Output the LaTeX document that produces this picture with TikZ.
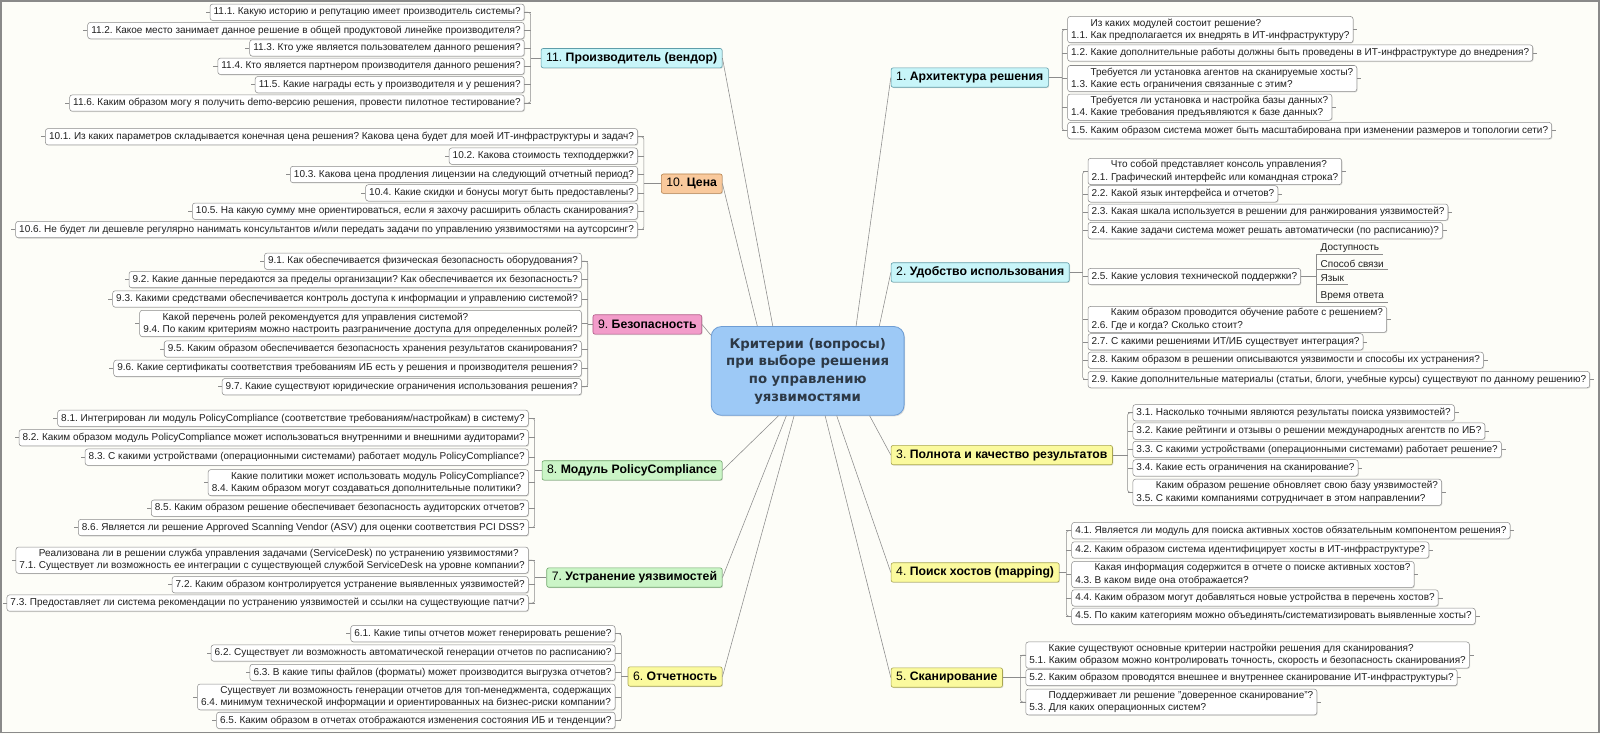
\documentclass[tikz,border=0pt]{standalone}
\usepackage{fontspec}
\setmainfont{Liberation Sans}
\newfontfamily\hubfont{DejaVu Sans}
\usetikzlibrary{calc,shadows}
\definecolor{Paper}{HTML}{FDFDF8}
\definecolor{Frame}{HTML}{8A8A8A}
\definecolor{Wire}{HTML}{8C8C8C}
\definecolor{Ink}{HTML}{202020}
\definecolor{HubFill}{HTML}{9DC9F6}
\definecolor{HubLine}{HTML}{6E9DD4}
\definecolor{HubInk}{HTML}{2D3946}
\definecolor{CyanSoft}{HTML}{C8F5F9}
\definecolor{CyanLine}{HTML}{5F9DA9}
\definecolor{PeachSoft}{HTML}{F9C99C}
\definecolor{PeachLine}{HTML}{B7834F}
\definecolor{PinkSoft}{HTML}{F29CCA}
\definecolor{PinkLine}{HTML}{B25A88}
\definecolor{GreenSoft}{HTML}{CBF5C7}
\definecolor{GreenLine}{HTML}{70A76B}
\definecolor{YellowSoft}{HTML}{FBFA9E}
\definecolor{YellowLine}{HTML}{A9A652}
\newcommand{\dualline}[3]{\hspace*{19pt}#2\\#1 #3}
\tikzset{
  wire/.style={draw=Wire,line width=0.55pt},
  leaf/.style={draw=Frame,fill=white,rounded corners=2.5pt,line width=0.5pt,
    inner xsep=3.5pt,inner ysep=2.2pt,minimum height=16pt,align=left,
    font=\fontsize{9.8}{12}\selectfont,text=Ink,
    drop shadow={shadow xshift=0.8pt,shadow yshift=-0.8pt,opacity=0.25}},
  leafL/.style={leaf,anchor=east},
  leafR/.style={leaf,anchor=west},
  topic/.style={draw=#1Line,fill=#1Soft,rounded corners=2pt,line width=0.6pt,
    inner xsep=5pt,minimum height=19pt,font=\fontsize{12}{13}\selectfont,text=black,
    drop shadow={shadow xshift=0.8pt,shadow yshift=-0.8pt,opacity=0.25}},
  note/.style={anchor=west,inner xsep=4pt,inner ysep=1.5pt,
    font=\fontsize{9.8}{12}\selectfont,text=Ink},
  hub/.style={draw=HubLine,fill=HubFill,rounded corners=10pt,line width=0.8pt,
    minimum width=189pt,minimum height=87pt,align=center,text=HubInk,
    font={\hubfont\fontsize{13}{17.3}\selectfont\bfseries},
    drop shadow={shadow xshift=1pt,shadow yshift=-1pt,opacity=0.25}}
}

\begin{document}
\frenchspacing
\begin{tikzpicture}[x=1pt,y=-1pt]
  \fill[Paper] (0,0) rectangle (1568,719);
  \draw[Frame,line width=1.2pt] (1,1) rectangle (1567,718);

  \node[hub] (hub) at (791.5,363.5)
    {Критерии (вопросы)\\при выборе решения\\по управлению\\уязвимостями};

  % main topics
  \node[topic=Cyan,anchor=east] (t11) at (708,57) {11. \textbf{Производитель (вендор)}};
  \node[topic=Peach,anchor=east] (t10) at (708,180) {10. \textbf{Цена}};
  \node[topic=Pink,anchor=east] (t9) at (688,318) {9. \textbf{Безопасность}};
  \node[topic=Green,anchor=east] (t8) at (708,461) {8. \textbf{Модуль PolicyCompliance}};
  \node[topic=Green,anchor=east] (t7) at (708,566) {7. \textbf{Устранение уязвимостей}};
  \node[topic=Yellow,anchor=east] (t6) at (708,663) {6. \textbf{Отчетность}};
  \node[topic=Cyan,anchor=west] (t1) at (873,76) {1. \textbf{Архитектура решения}};
  \node[topic=Cyan,anchor=west] (t2) at (873,267) {2. \textbf{Удобство использования}};
  \node[topic=Yellow,anchor=west] (t3) at (873,446) {3. \textbf{Полнота и качество результатов}};
  \node[topic=Yellow,anchor=west] (t4) at (873,561) {4. \textbf{Поиск хостов (mapping)}};
  \node[topic=Yellow,anchor=west] (t5) at (873,664) {5. \textbf{Сканирование}};

  \draw[wire] (t11.east) -- ($(hub.north west)!0.32!(hub.north east)$);
  \draw[wire] (t10.east) -- ($(hub.north west)!0.24!(hub.north east)$);
  \draw[wire] (t9.east) -- ($(hub.north west)!0.1!(hub.south west)$);
  \draw[wire] (t8.east) -- ($(hub.south west)!0.35!(hub.south east)$);
  \draw[wire] (t7.east) -- ($(hub.south west)!0.39!(hub.south east)$);
  \draw[wire] (t6.east) -- ($(hub.south west)!0.43!(hub.south east)$);
  \draw[wire] (t1.west) -- ($(hub.north west)!0.75!(hub.north east)$);
  \draw[wire] (t2.west) -- ($(hub.north west)!0.87!(hub.north east)$);
  \draw[wire] (t3.west) -- ($(hub.south west)!0.82!(hub.south east)$);
  \draw[wire] (t4.west) -- ($(hub.south west)!0.65!(hub.south east)$);
  \draw[wire] (t5.west) -- ($(hub.south west)!0.59!(hub.south east)$);

  % 11
  \foreach \k/\y/\q in {
    1/12/{11.1. Какую историю и репутацию имеет производитель системы?},
    2/30/{11.2. Какое место занимает данное решение в общей продуктовой линейке производителя?},
    3/47/{11.3. Кто уже является пользователем данного решения?},
    4/65/{11.4. Кто является партнером производителя данного решения?},
    5/83/{11.5. Какие награды есть у производителя и у решения?},
    6/101/{11.6. Каким образом могу я получить demo-версию решения, провести пилотное тестирование?}}{
      \node[leafL] (v11-\k) at (514,\y) {\q};
      \draw[wire] (v11-\k.east) -- ++(6,0) (v11-\k.west) -- ++(-4,0);
  }
  \coordinate (j11) at (520,57);
  \draw[wire,rounded corners=2.5pt] (v11-1.east) -| (j11) |- (v11-6.east);
  \draw[wire] (j11) -- (t11.west);

  % 10
  \foreach \k/\y/\q in {
    1/134/{10.1. Из каких параметров складывается конечная цена решения? Какова цена будет для моей ИТ-инфраструктуры и задач?},
    2/153/{10.2. Какова стоимость техподдержки?},
    3/171/{10.3. Какова цена продления лицензии на следующий отчетный период?},
    4/189/{10.4. Какие скидки и бонусы могут быть предоставлены?},
    5/207/{10.5. На какую сумму мне ориентироваться, если я захочу расширить область сканирования?},
    6/225/{10.6. Не будет ли дешевле регулярно нанимать консультантов и/или передать задачи по управлению уязвимостями на аутсорсинг?}}{
      \node[leafL] (v10-\k) at (625,\y) {\q};
      \draw[wire] (v10-\k.east) -- ++(6,0) (v10-\k.west) -- ++(-4,0);
  }
  \coordinate (j10) at (631,180);
  \draw[wire,rounded corners=2.5pt] (v10-1.east) -| (j10) |- (v10-6.east);
  \draw[wire] (j10) -- (t10.west);

  % 9
  \foreach \k/\y/\q in {
    1/256/{9.1. Как обеспечивается физическая безопасность оборудования?},
    2/274/{9.2. Какие данные передаются за пределы организации? Как обеспечивается их безопасность?},
    3/293/{9.3. Какими средствами обеспечивается контроль доступа к информации и управлению системой?},
    4/317/{\dualline{9.4.}{Какой перечень ролей рекомендуется для управления системой?}{По каким критериям можно настроить разграничение доступа для определенных ролей?}},
    5/342/{9.5. Каким образом обеспечивается безопасность хранения результатов сканирования?},
    6/361/{9.6. Какие сертификаты соответствия требованиям ИБ есть у решения и производителя решения?},
    7/379/{9.7. Какие существуют юридические ограничения использования решения?}}{
      \node[leafL] (v9-\k) at (570,\y) {\q};
      \draw[wire] (v9-\k.east) -- ++(6,0) (v9-\k.west) -- ++(-4,0);
  }
  \coordinate (j9) at (576,318);
  \draw[wire,rounded corners=2.5pt] (v9-1.east) -| (j9) |- (v9-7.east);
  \draw[wire] (j9) -- (t9.west);

  % 8
  \foreach \k/\y/\q in {
    1/410/{8.1. Интегрирован ли модуль PolicyCompliance (соответствие требованиям/настройкам) в систему?},
    2/429/{8.2. Каким образом модуль PolicyCompliance может использоваться внутренними и внешними аудиторами?},
    3/448/{8.3. С какими устройствами (операционными системами) работает модуль PolicyCompliance?},
    4/473/{\dualline{8.4.}{Какие политики может использовать модуль PolicyCompliance?}{Каким образом могут создаваться дополнительные политики?}},
    5/498/{8.5. Каким образом решение обеспечивает безопасность аудиторских отчетов?},
    6/517/{8.6. Является ли решение Approved Scanning Vendor (ASV) для оценки соответствия PCI DSS?}}{
      \node[leafL] (v8-\k) at (518,\y) {\q};
      \draw[wire] (v8-\k.east) -- ++(6,0) (v8-\k.west) -- ++(-4,0);
  }
  \coordinate (j8) at (524,461);
  \draw[wire,rounded corners=2.5pt] (v8-1.east) -| (j8) |- (v8-6.east);
  \draw[wire] (j8) -- (t8.west);

  % 7
  \foreach \k/\y/\q in {
    1/549/{\dualline{7.1.}{Реализована ли в решении служба управления задачами (ServiceDesk) по устранению уязвимостями?}{Существует ли возможность ее интеграции с существующей службой ServiceDesk на уровне компании?}},
    2/573/{7.2. Каким образом контролируется устранение выявленных уязвимостей?},
    3/591/{7.3. Предоставляет ли система рекомендации по устранению уязвимостей и ссылки на существующие патчи?}}{
      \node[leafL] (v7-\k) at (518,\y) {\q};
      \draw[wire] (v7-\k.east) -- ++(6,0) (v7-\k.west) -- ++(-4,0);
  }
  \coordinate (j7) at (524,566);
  \draw[wire,rounded corners=2.5pt] (v7-1.east) -| (j7) |- (v7-3.east);
  \draw[wire] (j7) -- (t7.west);

  % 6
  \foreach \k/\y/\q in {
    1/621/{6.1. Какие типы отчетов может генерировать решение?},
    2/640/{6.2. Существует ли возможность автоматической генерации отчетов по расписанию?},
    3/659/{6.3. В какие типы файлов (форматы) может производится выгрузка отчетов?},
    4/683/{\dualline{6.4.}{Существует ли возможность генерации отчетов для топ-менеджмента, содержащих}{минимум технической информации и ориентированных на бизнес-риски компании?}},
    5/706/{6.5. Каким образом в отчетах отображаются изменения состояния ИБ и тенденции?}}{
      \node[leafL] (v6-\k) at (603,\y) {\q};
      \draw[wire] (v6-\k.east) -- ++(6,0) (v6-\k.west) -- ++(-4,0);
  }
  \coordinate (j6) at (609,663);
  \draw[wire,rounded corners=2.5pt] (v6-1.east) -| (j6) |- (v6-5.east);
  \draw[wire] (j6) -- (t6.west);

  % 1
  \foreach \k/\y/\q in {
    1/29/{\dualline{1.1.}{Из каких модулей состоит решение?}{Как предполагается их внедрять в ИТ-инфраструктуру?}},
    2/52/{1.2. Какие дополнительные работы должны быть проведены в ИТ-инфраструктуре до внедрения?},
    3/77/{\dualline{1.3.}{Требуется ли установка агентов на сканируемые хосты?}{Какие есть ограничения связанные с этим?}},
    4/105/{\dualline{1.4.}{Требуется ли установка и настройка базы данных?}{Какие требования предъявляются к базе данных?}},
    5/128/{1.5. Каким образом система может быть масштабирована при изменении размеров и топологии сети?}}{
      \node[leafR] (v1-\k) at (1046,\y) {\q};
      \draw[wire] (v1-\k.west) -- ++(-5,0) (v1-\k.east) -- ++(4,0);
  }
  \coordinate (j1) at (1041,76);
  \draw[wire,rounded corners=2.5pt] (v1-1.west) -| (j1) |- (v1-5.west);
  \draw[wire] (j1) -- (t1.east);

  % 2
  \foreach \k/\y/\q in {
    1/168/{\dualline{2.1.}{Что собой представляет консоль управления?}{Графический интерфейс или командная строка?}},
    2/190/{2.2. Какой язык интерфейса и отчетов?},
    3/208/{2.3. Какая шкала используется в решении для ранжирования уязвимостей?},
    4/226/{2.4. Какие задачи система может решать автоматически (по расписанию)?},
    5/271/{2.5. Какие условия технической поддержки?},
    6/313/{\dualline{2.6.}{Каким образом проводится обучение работе с решением?}{Где и когда? Сколько стоит?}},
    7/335/{2.7. С какими решениями ИТ/ИБ существует интеграция?},
    8/353/{2.8. Каким образом в решении описываются уязвимости и способы их устранения?},
    9/372/{2.9. Какие дополнительные материалы (статьи, блоги, учебные курсы) существуют по данному решению?}}{
      \node[leafR] (v2-\k) at (1066,\y) {\q};
      \draw[wire] (v2-\k.west) -- ++(-5,0) (v2-\k.east) -- ++(4,0);
  }
  \coordinate (j2) at (1061,267);
  \draw[wire,rounded corners=2.5pt] (v2-1.west) -| (j2) |- (v2-9.west);
  \draw[wire] (j2) -- (t2.east);

  \foreach \k/\y/\q in {1/243/Доступность, 2/259/Способ связи, 3/273/Язык, 4/290/Время ответа}{
    \node[note] (s\k) at (1290,\y) {\q};
    \draw[wire] (s\k.south west) -- (s\k.south east);
  }
  \coordinate (j25) at (1290,271);
  \draw[wire] (s1.south west) -- (s4.south west);
  \draw[wire] (v2-5.east) -- (j25);

  % 3
  \foreach \k/\y/\q in {
    1/404.5/{3.1. Насколько точными являются результаты поиска уязвимостей?},
    2/422.5/{3.2. Какие рейтинги и отзывы о решении международных агентств по ИБ?},
    3/440.5/{3.3. С какими устройствами (операционными системами) работает решение?},
    4/458.5/{3.4. Какие есть ограничения на сканирование?},
    5/482.5/{\dualline{3.5.}{Каким образом решение обновляет свою базу уязвимостей?}{С какими компаниями сотрудничает в этом направлении?}}}{
      \node[leafR] (v3-\k) at (1110,\y) {\q};
      \draw[wire] (v3-\k.west) -- ++(-5,0) (v3-\k.east) -- ++(4,0);
  }
  \coordinate (j3) at (1105,446);
  \draw[wire,rounded corners=2.5pt] (v3-1.west) -| (j3) |- (v3-5.west);
  \draw[wire] (j3) -- (t3.east);

  % 4
  \foreach \k/\y/\q in {
    1/520/{4.1. Является ли модуль для поиска активных хостов обязательным компонентом решения?},
    2/539/{4.2. Каким образом система идентифицирует хосты в ИТ-инфраструктуре?},
    3/563/{\dualline{4.3.}{Какая информация содержится в отчете о поиске активных хостов?}{В каком виде она отображается?}},
    4/586/{4.4. Каким образом могут добавляться новые устройства в перечень хостов?},
    5/604/{4.5. По каким категориям можно объединять/систематизировать выявленные хосты?}}{
      \node[leafR] (v4-\k) at (1050,\y) {\q};
      \draw[wire] (v4-\k.west) -- ++(-5,0) (v4-\k.east) -- ++(4,0);
  }
  \coordinate (j4) at (1045,561);
  \draw[wire,rounded corners=2.5pt] (v4-1.west) -| (j4) |- (v4-5.west);
  \draw[wire] (j4) -- (t4.east);

  % 5
  \foreach \k/\y/\q in {
    1/642/{\dualline{5.1.}{Какие существуют основные критерии настройки решения для сканирования?}{Каким образом можно контролировать точность, скорость и безопасность сканирования?}},
    2/664/{5.2. Каким образом проводятся внешнее и внутреннее сканирование ИТ-инфраструктуры?},
    3/688/{\dualline{5.3.}{Поддерживает ли решение "доверенное сканирование"?}{Для каких операционных систем?}}}{
      \node[leafR] (v5-\k) at (1005,\y) {\q};
      \draw[wire] (v5-\k.west) -- ++(-5,0) (v5-\k.east) -- ++(4,0);
  }
  \coordinate (j5) at (1000,664);
  \draw[wire,rounded corners=2.5pt] (v5-1.west) -| (j5) |- (v5-3.west);
  \draw[wire] (j5) -- (t5.east);
\end{tikzpicture}
\end{document}
